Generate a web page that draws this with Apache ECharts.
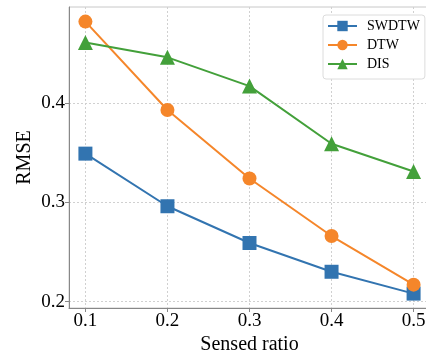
<!DOCTYPE html>
<html>
<head>
<meta charset="utf-8">
<script src="https://cdn.jsdelivr.net/npm/echarts@6/dist/echarts.min.js"></script>
<style>
  html, body { margin: 0; padding: 0; background: #fff; }
  #chart { width: 426px; height: 354px; }
</style>
</head>
<body>
<div id="chart"></div>
<script>
// Sensed ratio on the x axis, RMSE per method on the y axis
const ratios = [0.1, 0.2, 0.3, 0.4, 0.5];
const swdtw = [0.349, 0.296, 0.259, 0.230, 0.208];
const dtw   = [0.482, 0.393, 0.324, 0.266, 0.217];
const dis   = [0.461, 0.446, 0.417, 0.359, 0.331];
const xTicks = [0.1, 0.2, 0.3, 0.4, 0.5];
const yTicks = [0.2, 0.3, 0.4];

const FONT = 'Liberation Serif';
const pairs = ys => ratios.map((x, i) => [x, ys[i]]);

function lineSeries(name, ys, color, symbol) {
  return {
    name, type: 'line', data: pairs(ys),
    symbol, symbolSize: symbol === 'triangle' ? 15 : 14,
    lineStyle: { width: 2, color },
    itemStyle: { color },
    z: 3
  };
}

const chart = echarts.init(document.getElementById('chart'), null, { renderer: 'canvas' });
chart.setOption({
  animation: false,
  backgroundColor: '#fff',
  textStyle: { fontFamily: FONT },
  grid: {
    left: 69, top: 7, width: 361, height: 301,
    containLabel: false, outerBoundsMode: 'none',
    show: true, borderColor: '#c8c8c8', borderWidth: 1
  },
  xAxis: {
    type: 'value', min: 0.08, max: 0.52,
    name: 'Sensed ratio', nameLocation: 'middle', nameGap: 27, nameMoveOverlap: false,
    nameTextStyle: { fontFamily: FONT, fontSize: 20, color: '#000' },
    axisLine: { show: true, lineStyle: { color: '#888', width: 1 } },
    axisTick: { show: true, length: 4, lineStyle: { color: '#888' }, customValues: xTicks },
    axisLabel: {
      customValues: xTicks, margin: 4,
      fontFamily: FONT, fontSize: 19, color: '#000',
      formatter: v => v.toFixed(1)
    },
    splitLine: { show: true, lineStyle: { color: '#d0d0d0', type: [2, 2], width: 1 } }
  },
  yAxis: {
    type: 'value', min: 0.1935, max: 0.4967,
    name: 'RMSE', nameLocation: 'middle', nameGap: 34, nameMoveOverlap: false,
    nameTextStyle: { fontFamily: FONT, fontSize: 20, color: '#000' },
    axisLine: { show: true, lineStyle: { color: '#888', width: 1 } },
    axisTick: { show: true, length: 4, lineStyle: { color: '#888' }, customValues: yTicks },
    axisLabel: {
      customValues: yTicks, margin: 4,
      fontFamily: FONT, fontSize: 19, color: '#000',
      formatter: v => v.toFixed(1)
    },
    splitLine: { show: true, lineStyle: { color: '#d0d0d0', type: [2, 2], width: 1 } }
  },
  legend: {
    left: 323, top: 15, orient: 'vertical',
    padding: [4, 5, 8, 4],
    itemWidth: 29, itemHeight: 13, itemGap: 5,
    backgroundColor: '#fff',
    borderColor: '#dcdcdc', borderWidth: 1, borderRadius: 3,
    textStyle: { fontFamily: FONT, fontSize: 14, color: '#000', padding: [0, 0, 0, 5] },
    data: ['SWDTW', 'DTW', 'DIS']
  },
  series: [
    lineSeries('SWDTW', swdtw, '#3274b0', 'rect'),
    lineSeries('DTW', dtw, '#f5862a', 'circle'),
    lineSeries('DIS', dis, '#43a03a', 'triangle')
  ]
});
</script>
</body>
</html>
